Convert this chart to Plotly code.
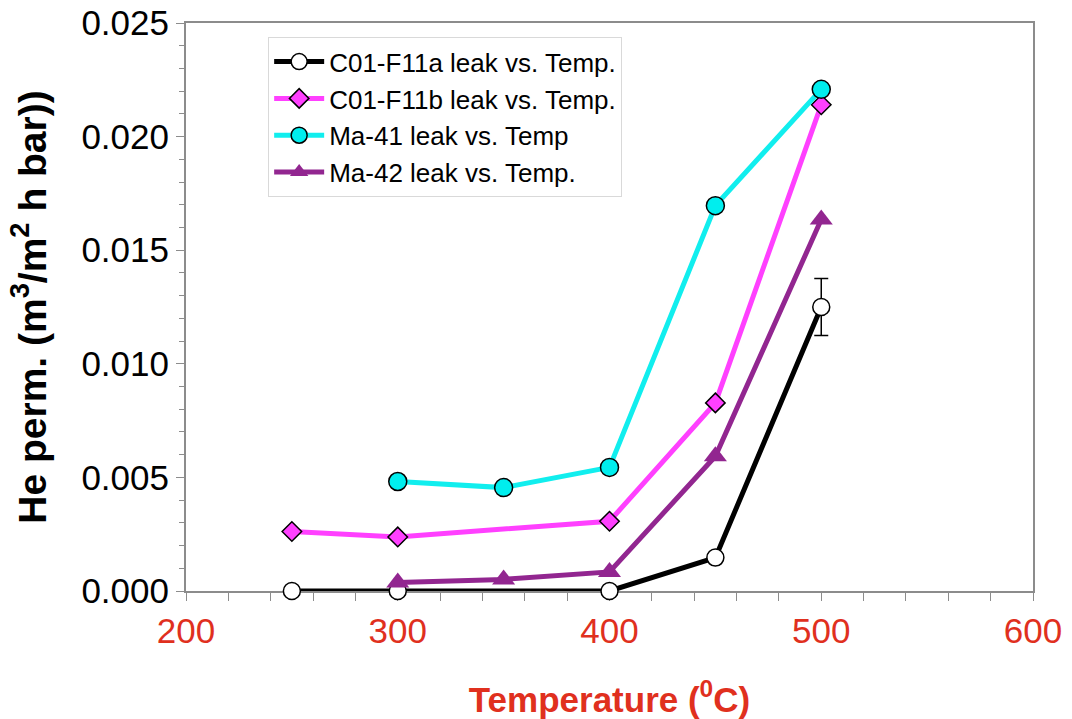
import plotly.graph_objects as go

# Helium permeance vs. temperature for four membranes
temp_a = [250, 300, 400, 450, 500]
perm_a = [0.0, 0.0, 0.0, 0.00147, 0.0125]
err_a = [0.0, 0.0, 0.0, 0.0001, 0.00125]

temp_b = [250, 300, 400, 450, 500]
perm_b = [0.00262, 0.00238, 0.00307, 0.00828, 0.0214]
err_b = [0.0002, 0.0002, 0.0002, 0.0002, 0.0002]

temp_41 = [300, 350, 400, 450, 500]
perm_41 = [0.00482, 0.00455, 0.00544, 0.01696, 0.02208]

temp_42 = [300, 350, 400, 450, 500]
perm_42 = [0.00037, 0.00051, 0.00084, 0.00593, 0.01635]

names = ["C01-F11a leak vs. Temp.", "C01-F11b leak vs. Temp.",
         "Ma-41 leak vs. Temp", "Ma-42 leak vs. Temp."]

FONT = "Arial, Liberation Sans, sans-serif"

fig = go.Figure()

fig.add_trace(go.Scatter(
    x=temp_a, y=perm_a, name=names[0], mode="lines+markers", cliponaxis=False,
    line=dict(color="black", width=5),
    marker=dict(symbol="circle", size=17, color="white",
                line=dict(color="black", width=1.5)),
    error_y=dict(type="data", array=err_a, color="black", thickness=1.5, width=7),
))
fig.add_trace(go.Scatter(
    x=temp_b, y=perm_b, name=names[1], mode="lines+markers", cliponaxis=False,
    line=dict(color="#FF40FF", width=5),
    marker=dict(symbol="diamond", size=15, color="#FF40FF",
                line=dict(color="black", width=1.5)),
    error_y=dict(type="data", array=err_b, color="black", thickness=1.5, width=5),
))
fig.add_trace(go.Scatter(
    x=temp_41, y=perm_41, name=names[2], mode="lines+markers", cliponaxis=False,
    line=dict(color="#11EEEE", width=5),
    marker=dict(symbol="circle", size=18, color="#00EEEE",
                line=dict(color="black", width=1.5)),
))
fig.add_trace(go.Scatter(
    x=temp_42, y=perm_42, name=names[3], mode="lines+markers", cliponaxis=False,
    line=dict(color="#922690", width=5),
    marker=dict(symbol="triangle-up", size=20, color="#922690",
                line=dict(color="#922690", width=0)),
))

fig.update_layout(
    width=1072, height=719,
    margin=dict(l=186, r=39, t=23, b=128),
    paper_bgcolor="white", plot_bgcolor="white",
    font=dict(family=FONT, color="black"),
    showlegend=True,
    legend=dict(
        x=0.097, y=0.975, xanchor="left", yanchor="top",
        bgcolor="white", bordercolor="#D9D9D9", borderwidth=1,
        font=dict(size=26, family=FONT, color="black"),
        tracegroupgap=0, itemwidth=50,
    ),
    xaxis=dict(
        range=[200, 600], dtick=100, tick0=200, automargin=False,
        showgrid=False, zeroline=False, layer="below traces",
        showline=True, linecolor="#8C8C8C", linewidth=2, mirror=True,
        ticks="outside", ticklen=8, tickcolor="#8C8C8C",
        minor=dict(dtick=20, ticks="outside", ticklen=8, tickcolor="#8C8C8C"),
        tickfont=dict(size=35, color="#E0301E", family=FONT),
        title=dict(text="<b>Temperature (<sup>0</sup>C)</b>",
                   font=dict(size=35, color="#E0301E", family=FONT), standoff=38),
    ),
    yaxis=dict(
        range=[0, 0.025], dtick=0.005, tickformat=".3f", automargin=False,
        showgrid=False, zeroline=False, layer="below traces",
        showline=True, linecolor="#8C8C8C", linewidth=2, mirror=True,
        ticks="outside", ticklen=8, tickcolor="#8C8C8C",
        minor=dict(dtick=0.001, ticks="outside", ticklen=5, tickcolor="#8C8C8C"),
        tickfont=dict(size=35, color="black", family=FONT),
        title=dict(text="<b>He perm. (m<sup>3</sup>/m<sup>2</sup> h bar))</b>",
                   font=dict(size=39, color="black", family=FONT), standoff=23),
    ),
)

fig.write_html("out.html")
